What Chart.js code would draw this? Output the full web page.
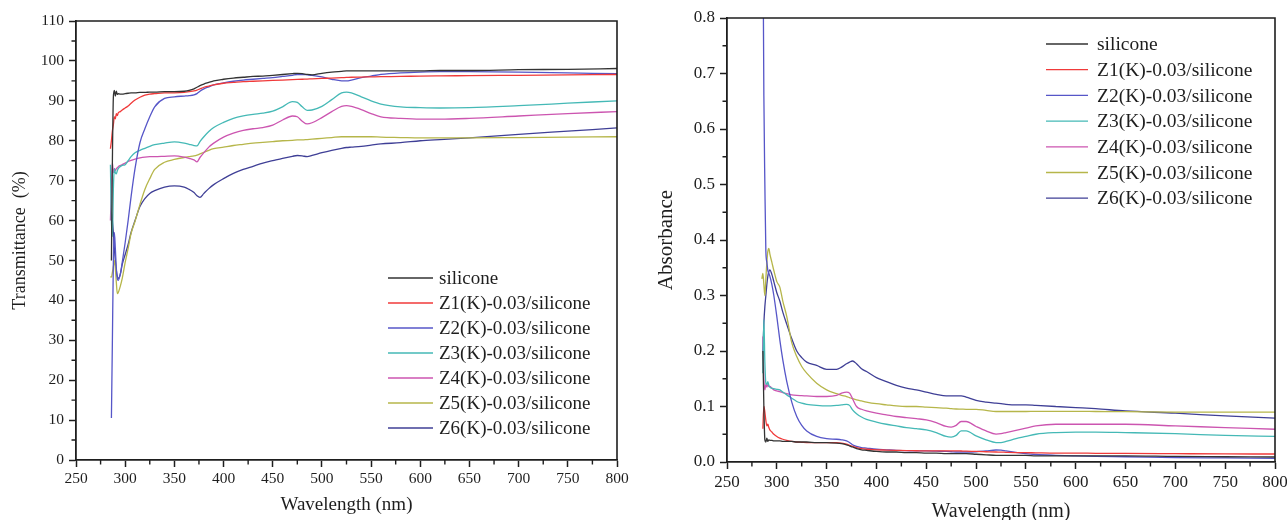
<!DOCTYPE html>
<html>
<head>
<meta charset="utf-8">
<script src="https://cdn.jsdelivr.net/npm/chart.js@4.4.1/dist/chart.umd.min.js"></script>
<style>
  html, body { margin: 0; padding: 0; background: #ffffff; }
  #wrap { position: relative; width: 1287px; height: 520px; overflow: hidden; background: #ffffff; }
  canvas { position: absolute; top: 0; }
  #transCanvas { left: 0; }
  #absCanvas { left: 640px; }
</style>
</head>
<body>
<div id="wrap">
  <canvas id="transCanvas" width="640" height="520"></canvas>
  <canvas id="absCanvas" width="647" height="520"></canvas>
</div>
<script>
// Wavelength grid (nm) shared by every spectrum
const wavelengths = [285, 286, 287, 288, 289, 290, 291, 292, 293, 295, 297, 300, 303, 306, 310, 315, 320, 325, 330, 340,
  350, 360, 365, 370, 373, 376, 380, 385, 390, 400, 410, 420, 430, 440, 450, 460, 470, 475, 480, 485,
  490, 500, 510, 520, 525, 530, 540, 550, 560, 580, 600, 620, 650, 700, 750, 800];

const sampleNames = ['silicone', 'Z1(K)-0.03/silicone', 'Z2(K)-0.03/silicone', 'Z3(K)-0.03/silicone',
  'Z4(K)-0.03/silicone', 'Z5(K)-0.03/silicone', 'Z6(K)-0.03/silicone'];

// Transmittance (%)
const transSilicone = [null, 50, 75, 91, 92.6, 91.2, 92.4, 91.6, 91.8, 91.7, 91.7, 91.8, 91.9, 92, 92, 92.1, 92.1, 92.2, 92.2, 92.3,
  92.3, 92.4, 92.6, 93, 93.4, 93.8, 94.2, 94.6, 95, 95.4, 95.7, 95.9, 96.1, 96.2, 96.4, 96.6, 96.8, 96.9, 96.8, 96.6,
  96.5, 96.9, 97.2, 97.4, 97.5, 97.5, 97.5, 97.5, 97.5, 97.5, 97.5, 97.6, 97.6, 97.8, 97.9, 98.1];
const transZ1 = [78, 80, 82.5, 84, 86, 85.5, 86.8, 86.3, 87, 87.3, 87.7, 88.2, 88.7, 89.4, 90.2, 90.9, 91.4, 91.7, 91.8, 92,
  92, 92.1, 92.3, 92.5, 92.7, 93, 93.4, 93.7, 94, 94.4, 94.6, 94.8, 94.9, 95, 95.1, 95.2, 95.3, 95.35, 95.4, 95.45,
  95.5, 95.6, 95.7, 95.8, 95.85, 95.9, 95.95, 96, 96.05, 96.1, 96.2, 96.25, 96.3, 96.4, 96.5, 96.6];
const transZ2 = [null, 10.5, 30, 50, 57, 53, 48, 45.5, 45, 46.5, 49.5, 54.5, 60, 66, 73, 79.5, 83, 86, 88.5, 90.6,
  91, 91.2, 91.3, 91.5, 91.8, 92.4, 93, 93.5, 94, 94.5, 94.9, 95.2, 95.4, 95.6, 95.8, 96.1, 96.4, 96.6, 96.6, 96.5,
  96.4, 96, 95.4, 95, 95, 95.2, 95.8, 96.2, 96.6, 97, 97.2, 97.3, 97.3, 97.2, 97, 96.8];
const transZ3 = [74, 60, 56, 68, 73, 72, 71.7, 72.5, 73, 73.5, 73.8, 74, 75, 76, 77, 77.6, 78.1, 78.6, 79, 79.4,
  79.7, 79.4, 79.1, 78.8, 78.7, 79.8, 81, 82.3, 83.3, 84.6, 85.6, 86.2, 86.6, 86.9, 87.4, 88.5, 89.8, 89.6, 88.5, 87.6,
  87.7, 88.6, 90.3, 92, 92.2, 92, 91, 90, 89.2, 88.5, 88.3, 88.2, 88.3, 88.8, 89.4, 90];
const transZ4 = [60, 68, 74.5, 72, 73, 72.5, 73, 73.2, 73.5, 73.8, 74, 74.4, 74.8, 75.1, 75.4, 75.7, 75.9, 76, 76, 76.1,
  76.2, 75.9, 75.6, 75.2, 74.7, 75.8, 77, 78.4, 79.4, 80.9, 81.9, 82.6, 83, 83.3, 83.9, 85.2, 86.2, 86, 84.9, 84.2,
  84.5, 85.8, 87.3, 88.6, 88.8, 88.6, 87.8, 86.8, 86, 85.6, 85.4, 85.4, 85.6, 86.2, 86.8, 87.3];
const transZ5 = [46, 45.8, 47, 48.5, 50, 48, 44.5, 41.7, 42, 43.5, 45.5, 49.5, 53, 56.8, 59.8, 64, 67.8, 70.5, 72.8, 74.6,
  75.3, 75.8, 76, 76.2, 76.4, 76.7, 77.1, 77.6, 78, 78.4, 78.8, 79.1, 79.4, 79.6, 79.8, 80, 80.1, 80.2, 80.2, 80.3,
  80.4, 80.6, 80.8, 81, 81, 81, 81, 81, 80.9, 80.8, 80.7, 80.7, 80.7, 80.8, 80.9, 81];
const transZ6 = [null, 62, 60, 57, 53, 50, 47.5, 46, 45.5, 46.5, 49, 51.5, 54, 57, 60, 63.5, 65.5, 66.8, 67.5, 68.4,
  68.7, 68.4, 67.8, 67, 66.2, 65.8, 66.8, 68, 69, 70.5, 71.8, 72.8, 73.6, 74.4, 75, 75.6, 76.1, 76.3, 76.2, 76,
  76.3, 77, 77.6, 78.1, 78.3, 78.4, 78.6, 78.9, 79.2, 79.5, 80, 80.3, 80.7, 81.6, 82.4, 83.2];

// Absorbance
const absSilicone = [null, 0.2, 0.1, 0.04, 0.036, 0.043, 0.037, 0.04, 0.039, 0.039, 0.038, 0.038, 0.038, 0.037, 0.037, 0.037, 0.036, 0.036, 0.036, 0.035,
  0.035, 0.034, 0.033, 0.031, 0.029, 0.027, 0.024, 0.022, 0.021, 0.019, 0.018, 0.018, 0.017, 0.017, 0.016, 0.016, 0.015, 0.015, 0.015, 0.015,
  0.015, 0.014, 0.013, 0.012, 0.012, 0.012, 0.012, 0.012, 0.011, 0.011, 0.011, 0.011, 0.011, 0.01, 0.0095, 0.009];
const absZ1 = [null, 0.06, 0.1, 0.09, 0.075, 0.065, 0.068, 0.062, 0.058, 0.054, 0.05, 0.046, 0.043, 0.041, 0.039, 0.037, 0.036, 0.0355, 0.035, 0.035,
  0.035, 0.035, 0.034, 0.032, 0.03, 0.028, 0.026, 0.024, 0.023, 0.022, 0.0215, 0.021, 0.0205, 0.0203, 0.02, 0.02, 0.02, 0.02, 0.02, 0.0198,
  0.0196, 0.019, 0.0185, 0.018, 0.0178, 0.0175, 0.017, 0.0168, 0.0165, 0.016, 0.016, 0.0157, 0.0155, 0.015, 0.0145, 0.0144];
const absZ2 = [null, 0.98, 0.66, 0.5, 0.38, 0.36, 0.345, 0.34, 0.335, 0.32, 0.3, 0.262, 0.22, 0.184, 0.145, 0.108, 0.082, 0.066, 0.056, 0.046,
  0.042, 0.041, 0.04, 0.038, 0.035, 0.031, 0.028, 0.026, 0.025, 0.023, 0.022, 0.021, 0.0205, 0.02, 0.02, 0.0195, 0.019, 0.0185, 0.018, 0.018,
  0.018, 0.0185, 0.02, 0.0216, 0.0214, 0.02, 0.0175, 0.015, 0.0135, 0.012, 0.011, 0.0102, 0.0095, 0.008, 0.0073, 0.0066];
const absZ3 = [null, 0.16, 0.256, 0.18, 0.142, 0.14, 0.145, 0.138, 0.135, 0.133, 0.132, 0.131, 0.13, 0.126, 0.121, 0.115, 0.109, 0.106, 0.104, 0.102,
  0.101, 0.102, 0.103, 0.104, 0.102, 0.094, 0.087, 0.081, 0.077, 0.072, 0.068, 0.065, 0.062, 0.06, 0.058, 0.053, 0.046, 0.045, 0.048, 0.056,
  0.056, 0.047, 0.04, 0.035, 0.035, 0.037, 0.042, 0.046, 0.05, 0.053, 0.054, 0.054, 0.053, 0.051, 0.048, 0.046];
const absZ4 = [null, 0.226, 0.15, 0.13, 0.14, 0.135, 0.14, 0.136, 0.136, 0.133, 0.13, 0.128, 0.127, 0.125, 0.123, 0.121, 0.12, 0.1195, 0.119, 0.118,
  0.118, 0.12, 0.124, 0.126, 0.124, 0.114, 0.1, 0.095, 0.092, 0.088, 0.085, 0.082, 0.08, 0.078, 0.076, 0.071, 0.064, 0.063, 0.066, 0.073,
  0.073, 0.064, 0.056, 0.0504, 0.051, 0.053, 0.057, 0.061, 0.065, 0.068, 0.068, 0.068, 0.068, 0.065, 0.062, 0.059];
const absZ5 = [0.33, 0.34, 0.32, 0.3, 0.33, 0.36, 0.38, 0.385, 0.375, 0.36, 0.345, 0.325, 0.315, 0.29, 0.262, 0.215, 0.19, 0.172, 0.16, 0.142,
  0.13, 0.123, 0.12, 0.118, 0.116, 0.114, 0.112, 0.11, 0.108, 0.105, 0.103, 0.101, 0.1, 0.1, 0.099, 0.098, 0.097, 0.096, 0.0955, 0.0953,
  0.095, 0.095, 0.093, 0.091, 0.091, 0.091, 0.091, 0.091, 0.0913, 0.0913, 0.0912, 0.091, 0.0907, 0.09, 0.09, 0.09];
const absZ6 = [null, 0.2, 0.25, 0.28, 0.3, 0.32, 0.335, 0.343, 0.346, 0.338, 0.325, 0.305, 0.29, 0.27, 0.248, 0.222, 0.2, 0.188, 0.18, 0.174,
  0.167, 0.167, 0.171, 0.177, 0.18, 0.182, 0.177, 0.168, 0.163, 0.152, 0.145, 0.138, 0.133, 0.13, 0.126, 0.122, 0.119, 0.119, 0.119, 0.119,
  0.117, 0.111, 0.108, 0.106, 0.105, 0.104, 0.103, 0.103, 0.102, 0.1, 0.098, 0.096, 0.092, 0.088, 0.083, 0.079];

// Axis tick values
const wavelengthTicks = [250, 300, 350, 400, 450, 500, 550, 600, 650, 700, 750, 800];
const transTicks = [0, 10, 20, 30, 40, 50, 60, 70, 80, 90, 100, 110];
const absTicks = [0, 0.1, 0.2, 0.3, 0.4, 0.5, 0.6, 0.7, 0.8];

const lineColors = ['#333333', '#f03a3a', '#5656c8', '#45b9b6', '#cc55b0', '#b6b64a', '#3f3f96'];
const SERIF = '"Liberation Serif", "Times New Roman", serif';
const INK = '#1e1e1e';

const midpoints = arr => arr.slice(1).map((v, i) => (v + arr[i]) / 2);

function buildDatasets(seriesList) {
  return seriesList.map((values, i) => ({
    label: sampleNames[i],
    data: wavelengths.map((w, j) => ({ x: w, y: values[j] })),
    borderColor: lineColors[i],
    backgroundColor: lineColors[i],
    borderWidth: 1.3,
    pointRadius: 0,
    fill: false,
    cubicInterpolationMode: 'monotone',
    spanGaps: false
  }));
}

// Closes the plot box on top/right and adds the short minor ticks
const frameMinor = {
  id: 'frameMinor',
  afterDraw(chart, args, o) {
    const { ctx, chartArea: a, scales: { x, y } } = chart;
    ctx.save();
    ctx.strokeStyle = INK;
    ctx.lineWidth = 1.6;
    ctx.beginPath();
    ctx.moveTo(a.left, a.top);
    ctx.lineTo(a.right, a.top);
    ctx.lineTo(a.right, a.bottom);
    ctx.stroke();
    ctx.lineWidth = 1.4;
    ctx.beginPath();
    for (const v of o.xMinor) {
      const px = x.getPixelForValue(v);
      ctx.moveTo(px, a.bottom);
      ctx.lineTo(px, a.bottom + 4.5);
    }
    for (const v of o.yMinor) {
      const py = y.getPixelForValue(v);
      ctx.moveTo(a.left, py);
      ctx.lineTo(a.left - 4.5, py);
    }
    ctx.stroke();
    ctx.restore();
  }
};

// Line-sample legend placed inside the plot
const lineLegend = {
  id: 'lineLegend',
  afterDraw(chart, args, o) {
    const ctx = chart.ctx;
    ctx.save();
    ctx.font = o.fontSize + 'px ' + SERIF;
    ctx.textBaseline = 'middle';
    ctx.textAlign = 'left';
    chart.data.datasets.forEach((ds, i) => {
      const y = o.y + i * o.spacing;
      ctx.strokeStyle = ds.borderColor;
      ctx.lineWidth = 1.3;
      ctx.beginPath();
      ctx.moveTo(o.x, y);
      ctx.lineTo(o.x + o.lineLength, y);
      ctx.stroke();
      ctx.fillStyle = INK;
      ctx.fillText(ds.label, o.x + o.lineLength + o.gap, y + 1);
    });
    ctx.restore();
  }
};

function makeChart(canvasId, cfg) {
  return new Chart(document.getElementById(canvasId), {
    type: 'line',
    data: { datasets: buildDatasets(cfg.series) },
    plugins: [frameMinor, lineLegend],
    options: {
      responsive: false,
      devicePixelRatio: 1,
      animation: false,
      events: [],
      layout: { padding: { top: cfg.padTop, right: cfg.padRight, left: 0, bottom: 0 } },
      plugins: {
        legend: { display: false },
        tooltip: { enabled: false },
        frameMinor: { xMinor: midpoints(wavelengthTicks), yMinor: midpoints(cfg.yTicks) },
        lineLegend: cfg.legend
      },
      scales: {
        x: {
          type: 'linear',
          min: 250, max: 800,
          afterBuildTicks: s => { s.ticks = wavelengthTicks.map(v => ({ value: v })); },
          afterFit: s => { s.height = cfg.xHeight; s.paddingLeft = 0; s.paddingRight = 0; },
          ticks: { font: { family: SERIF, size: cfg.tickSize }, color: INK, padding: 3, maxRotation: 0, autoSkip: false },
          grid: { drawOnChartArea: false, drawTicks: true, tickLength: 7, tickColor: INK, tickWidth: 1.5 },
          border: { display: true, color: INK, width: 1.8 },
          title: {
            display: true, text: 'Wavelength (nm)', color: INK,
            font: { family: SERIF, size: cfg.xTitleSize, lineHeight: 1.2 },
            padding: { top: 0, bottom: cfg.xTitlePad }
          }
        },
        y: {
          type: 'linear',
          min: cfg.yMin, max: cfg.yMax,
          afterBuildTicks: s => { s.ticks = cfg.yTicks.map(v => ({ value: v })); },
          afterFit: s => { s.width = cfg.yWidth; s.paddingTop = 0; s.paddingBottom = 0; },
          ticks: {
            font: { family: SERIF, size: cfg.tickSize }, color: INK, padding: 5, autoSkip: false,
            callback: cfg.yFormat
          },
          grid: { drawOnChartArea: false, drawTicks: true, tickLength: 7, tickColor: INK, tickWidth: 1.5 },
          border: { display: true, color: INK, width: 1.8 },
          title: {
            display: true, text: cfg.yTitle, color: INK,
            font: { family: SERIF, size: cfg.yTitleSize, lineHeight: 1.2 },
            padding: { top: cfg.yTitlePad, bottom: 0 }
          }
        }
      }
    }
  });
}

makeChart('transCanvas', {
  series: [transSilicone, transZ1, transZ2, transZ3, transZ4, transZ5, transZ6],
  yTicks: transTicks, yMin: 0, yMax: 110,
  yFormat: v => String(v),
  yTitle: 'Transmittance  (%)',
  padTop: 21, padRight: 23, xHeight: 60, yWidth: 76,
  tickSize: 15.5, xTitleSize: 19, xTitlePad: 4, yTitleSize: 18, yTitlePad: 9,
  legend: { x: 388, y: 278, spacing: 25, lineLength: 45, gap: 6, fontSize: 19 }
});

makeChart('absCanvas', {
  series: [absSilicone, absZ1, absZ2, absZ3, absZ4, absZ5, absZ6],
  yTicks: absTicks, yMin: 0, yMax: 0.8,
  yFormat: v => Number(v).toFixed(1),
  yTitle: 'Absorbance',
  padTop: 18, padRight: 12, xHeight: 58, yWidth: 87,
  tickSize: 17, xTitleSize: 20, xTitlePad: -4, yTitleSize: 21, yTitlePad: 14,
  legend: { x: 406, y: 44, spacing: 25.7, lineLength: 42, gap: 9, fontSize: 19.5 }
});
</script>
</body>
</html>
